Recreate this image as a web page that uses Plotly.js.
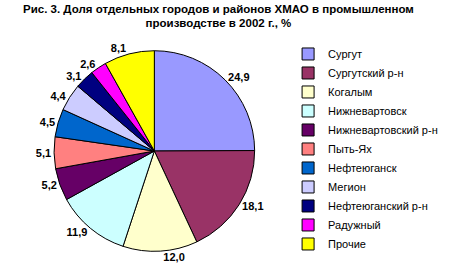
<!DOCTYPE html>
<html><head><meta charset="utf-8">
<script src="https://cdn.plot.ly/plotly-3.0.1.min.js"></script>
<style>html,body{margin:0;padding:0;background:#fff}#c{width:458px;height:278px}</style>
</head><body><div id="c"></div>
<script>
const labels = ["Сургут","Сургутский р-н","Когалым","Нижневартовск","Нижневартовский р-н","Пыть-Ях","Нефтеюганск","Мегион","Нефтеюганский р-н","Радужный","Прочие"];
const values = [24.9,18.1,12.0,11.9,5.2,5.1,4.5,4.4,3.1,2.6,8.1];
const colors = ["#9999FF","#993366","#FFFFCC","#CCFFFF","#660066","#FF8080","#0066CC","#CCCCFF","#000080","#FF00FF","#FFFF00"];
const trace = {
  type:"pie", labels:labels, values:values, sort:false, direction:"clockwise", rotation:0,
  marker:{colors:colors, line:{color:"#000", width:1}},
  textposition:"outside", texttemplate:"%{value:.1f}",
  textfont:{family:"Arial, Liberation Sans", size:11, color:"#000", weight:"bold"},
  domain:{x:[0.118,0.556], y:[0.0935,0.82]},
  hoverinfo:"none", automargin:false
};
const layout = {
  width:458, height:278, margin:{l:0,r:0,t:0,b:0},
  paper_bgcolor:"#fff", separators:", ",
  title:{text:"<b>Рис. 3. Доля отдельных городов и районов ХМАО в промышленном<br>производстве в 2002 г., %</b>",
    font:{family:"Arial, Liberation Sans", size:11.5, color:"#000"}, x:0.477, xanchor:"center", yref:"container", y:0.955, yanchor:"top"},
  showlegend:true,
  legend:{x:0.629, y:0.858, xanchor:"left", yanchor:"top", font:{family:"Arial, Liberation Sans", size:11, color:"#000"}, itemwidth:30, tracegroupgap:0}
};
Plotly.newPlot("c",[trace],layout,{staticPlot:true});
</script></body></html>
